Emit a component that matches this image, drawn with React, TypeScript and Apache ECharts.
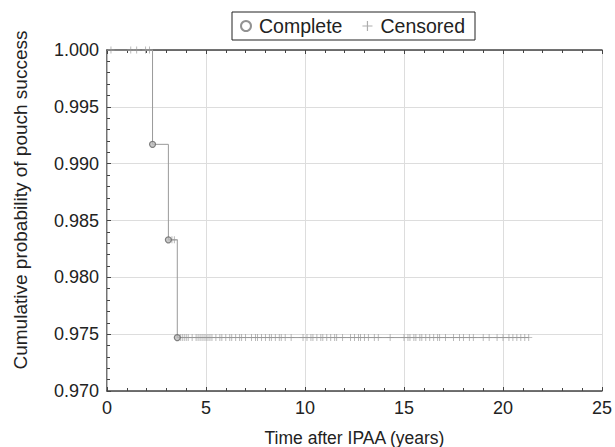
import React, { useEffect, useRef } from "react";
import * as echarts from "echarts";

const xTicks = [0, 5, 10, 15, 20, 25];
const yTicks = [0.97, 0.975, 0.98, 0.985, 0.99, 0.995, 1.0];

// Kaplan-Meier step curve (time, survival)
const stepTimes = [0, 2.3, 3.1, 3.55, 21.3];
const stepValues = [1.0, 0.9917, 0.9833, 0.9747, 0.9747];

// Complete (event) points
const completeTimes = [2.3, 3.1, 3.55];
const completeValues = [0.9917, 0.9833, 0.9747];

// Censored observations
const censoredTop = [0.2, 1.2, 1.5, 1.95, 2.15];
const censoredMid = [3.28, 3.4];
const censoredLow = [
  3.7, 3.8, 3.9, 4.0, 4.1, 4.3, 4.5, 4.6, 4.7, 4.8, 4.9, 5.0, 5.1, 5.2, 5.3,
  5.5, 5.7, 5.8, 6.0, 6.2, 6.3, 6.5, 6.7, 6.8, 7.0, 7.3, 7.5, 7.6, 7.8, 8.0,
  8.2, 8.3, 8.5, 8.7, 8.8, 9.0, 9.3, 9.9, 10.1, 10.3, 10.4, 10.6, 10.8, 10.9,
  11.1, 11.3, 11.5, 11.6, 11.9, 12.3, 12.5, 12.7, 12.8, 13.0, 13.2, 13.5, 13.7,
  14.3, 15.0, 15.2, 15.3, 15.5, 15.6, 15.8, 15.9, 16.1, 16.3, 16.5, 16.7, 16.8,
  17.1, 17.5, 17.8, 18.0, 18.3, 18.5, 19.0, 19.3, 19.7, 20.0, 20.3, 20.5, 20.7,
  20.9, 21.1, 21.3,
];

const Y_TITLE = "Cumulative probability of pouch success";
const X_TITLE = "Time after IPAA (years)";

const PLUS = "path://M-0.6,-5H0.6V-0.6H5V0.6H0.6V5H-0.6V0.6H-5V-0.6H-0.6Z";

export default function App() {
  const ref = useRef<HTMLDivElement>(null);
  useEffect(() => {
    if (!ref.current) return;
    const chart = echarts.init(ref.current, undefined, { renderer: "svg" });
    const censored: number[][] = [
      ...censoredTop.map((t) => [t, 1.0]),
      ...censoredMid.map((t) => [t, 0.9833]),
      ...censoredLow.map((t) => [t, 0.9747]),
    ];
    const font = "'Liberation Sans', Arial, sans-serif";
    const axisCommon = {
      axisLine: { show: true, lineStyle: { color: "#444", width: 1.5 } },
      axisTick: { show: true, inside: true, length: 4, lineStyle: { color: "#444" } },
      minorTick: { show: true, splitNumber: 5, length: 3, lineStyle: { color: "#444" } },
    };
    chart.setOption({
      animation: false,
      backgroundColor: "#fff",
      textStyle: { fontFamily: font },
      grid: { left: 107, right: 13, top: 50, bottom: 56, outerBoundsMode: "none", containLabel: false },
      graphic: [
        {
          type: "text",
          x: 20,
          y: 200,
          rotation: Math.PI / 2,
          style: {
            text: Y_TITLE,
            font: `19px ${font}`,
            fill: "#222",
            align: "center",
            verticalAlign: "middle",
          },
        },
      ],
      legend: {
        top: 12,
        left: 232,
        itemGap: 20,
        itemWidth: 10,
        itemHeight: 10,
        borderColor: "#222",
        borderWidth: 1,
        padding: [4, 10, 4, 8],
        textStyle: { fontSize: 19.5, color: "#222", fontFamily: font, padding: [0, 0, 0, 3] },
        data: [
          { name: "Complete", icon: "emptyCircle", itemStyle: { color: "#777", borderColor: "#777", borderWidth: 2 } },
          { name: "Censored", icon: PLUS, itemStyle: { color: "#999" } },
        ],
      },
      xAxis: [
        {
          type: "value",
          min: 0,
          max: 25,
          interval: 5,
          name: X_TITLE,
          nameLocation: "middle",
          nameGap: 38,
          nameTextStyle: { fontSize: 17.5, color: "#222" },
          axisLabel: { fontSize: 18, color: "#222", margin: 8 },
          splitLine: { show: true, lineStyle: { color: "#ddd", width: 1 } },
          ...axisCommon,
        },
        {
          type: "value",
          position: "top",
          min: 0,
          max: 25,
          interval: 5,
          axisLabel: { show: false },
          splitLine: { show: false },
          ...axisCommon,
        },
      ],
      yAxis: [
        {
          type: "value",
          min: 0.97,
          max: 1.0,
          interval: 0.005,
          axisLabel: {
            fontSize: 18,
            color: "#222",
            margin: 8,
            formatter: (v: number) => v.toFixed(3),
          },
          splitLine: { show: true, lineStyle: { color: "#ddd", width: 1 } },
          ...axisCommon,
        },
        {
          type: "value",
          position: "right",
          min: 0.97,
          max: 1.0,
          interval: 0.005,
          axisLabel: { show: false },
          splitLine: { show: false },
          ...axisCommon,
          axisLine: { show: true, lineStyle: { color: "#bbb", width: 1 } },
          axisTick: { show: false },
          minorTick: { show: false },
        },
      ],
      series: [
        {
          type: "line",
          step: "end",
          data: stepTimes.map((t, i) => [t, stepValues[i]]),
          showSymbol: false,
          symbol: "none",
          lineStyle: { color: "#999", width: 1 },
          silent: true,
          z: 2,
        },
        {
          name: "Censored",
          type: "scatter",
          data: censored,
          symbol: PLUS,
          symbolSize: 7,
          itemStyle: { color: "#999" },
          z: 3,
        },
        {
          name: "Complete",
          type: "scatter",
          data: completeTimes.map((t, i) => [t, completeValues[i]]),
          symbol: "circle",
          symbolSize: 6,
          itemStyle: { color: "#bbb", borderColor: "#666", borderWidth: 1.2 },
          z: 4,
        },
      ],
    });
    return () => chart.dispose();
  }, []);
  return (
    <div
      ref={ref}
      style={{ position: "fixed", left: 0, top: 0, width: 615, height: 447 }}
    />
  );
}
